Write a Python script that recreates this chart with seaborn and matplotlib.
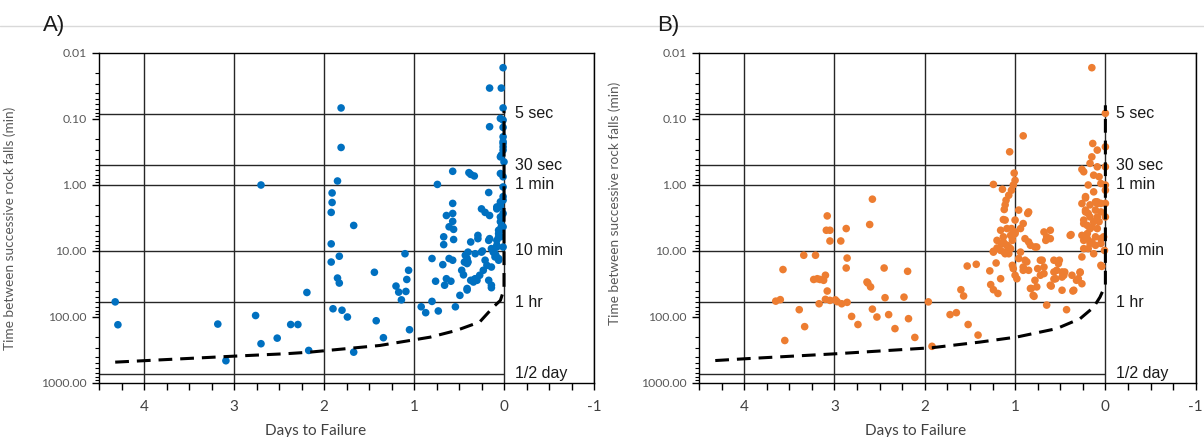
import matplotlib
matplotlib.use("Agg")
import matplotlib.pyplot as plt
import numpy as np
import pandas as pd
import seaborn as sns
from matplotlib.lines import Line2D
from matplotlib.ticker import FixedLocator, LogLocator, NullFormatter

# ---------------------------------------------------------------- data
# Panel A: rock-fall intervals (days to failure, minutes between falls)
a_days = [
    4.32, 4.29, 3.18, 3.09, 2.76, 2.70, 2.52, 2.37, 2.29, 2.70, 2.19, 2.17,
    1.81, 1.81, 1.85, 1.91, 1.91, 1.92, 1.67, 1.92, 1.83, 1.92, 1.85, 1.83,
    1.90, 1.80, 1.74, 1.67, 1.42, 1.34, 1.44, 1.10, 1.06, 1.08, 1.20, 1.17,
    1.09, 1.14, 1.05, 0.57, 0.64, 0.57, 0.57, 0.61, 0.56, 0.67, 0.56, 0.67,
    0.80, 0.68, 0.61, 0.57, 0.64, 0.66, 0.59, 0.76, 0.92, 0.87, 0.80, 0.73,
    0.54, 0.49, 0.41, 0.45, 0.47, 0.44, 0.41, 0.40, 0.43, 0.40, 0.37, 0.29,
    0.29, 0.25, 0.17, 0.16, 0.21, 0.19, 0.23, 0.27, 0.30, 0.34, 0.37, 0.17,
    0.14, 0.41, 0.32, 0.14, 0.10, 0.06, 0.08, 0.04, 0.06, 0.25, 0.21, 0.16,
    0.08, 0.04, 0.03, 0.03, 0.32, 0.01, 0.16, 0.03, 0.01, 0.04, 0.01, 0.16,
    0.01, 0.01, 0.03, 0.00, 0.57, 0.39, 0.37, 0.33, 0.04, 0.74, 0.01, 0.17,
    0.04, 0.01, 0.01, 0.01, 0.01, 0.04, 0.01, 0.08, 0.04, 0.01, 0.04, 0.06,
    0.08, 0.06, 0.12, 0.09, 0.06, 0.14, 0.14, 0.24, 0.41, 0.33, 0.01, 0.01,
    0.04, 0.01, 0.04, 0.01, 0.08, 0.10,
]
a_minutes = [
    59, 131, 128, 460, 95, 254, 209, 130, 130, 1.0, 42.5, 321,
    0.068, 0.27, 0.87, 1.32, 1.84, 2.6, 4.1, 7.8, 12, 14.7, 25.7, 30.6,
    75, 79, 100, 341, 114, 206, 21, 11, 19.6, 27, 34, 42,
    41, 55, 156, 1.9, 2.9, 2.7, 3.55, 4.3, 4.7, 6.1, 6.7, 8.0,
    13.0, 16.1, 13, 13.8, 26.3, 33, 28.7, 28.7, 70, 86, 58, 81,
    70, 47, 39, 23, 19.6, 14.7, 13, 14.7, 11.6, 10.4, 7.3, 5.8,
    6.5, 10.4, 6.9, 6.5, 13.8, 16.5, 19.6, 23.3, 27.8, 29.5, 27.8, 27.8,
    33, 15.5, 11, 9.2, 11, 13, 8.2, 4.9, 6.1, 2.3, 2.6, 2.9,
    2.3, 2.15, 4.3, 3.05, 26.3, 0.0167, 0.034, 0.034, 0.068, 0.098, 0.104, 0.131,
    0.22, 0.264, 0.353, 0.446, 0.62, 0.65, 0.69, 0.73, 0.67, 0.98, 1.07, 1.3,
    1.8, 0.134, 0.186, 0.235, 0.296, 0.375, 0.75, 2.15, 2.0, 2.7, 3.6, 5.45,
    6.9, 4.85, 10.4, 11.6, 13.8, 17.5, 36, 10.0, 37, 27, 1.5, 1.7,
    3.05, 4.3, 6.1, 8.7, 8.7, 12.3,
]

# Panel B: rock-fall intervals (days to failure, minutes between falls)
b_days = [
    2.58, 3.08, 3.09, 3.05, 2.87, 2.61, 3.05, 2.93, 3.34, 3.21, 2.86, 3.57,
    2.87, 2.45, 3.23, 3.19, 3.16, 3.12, 3.10, 3.08, 2.64, 2.63, 2.60, 3.65,
    3.60, 3.10, 3.05, 2.99, 2.97, 2.92, 2.86, 3.17, 2.44, 3.39, 2.58, 2.81,
    2.40, 2.53, 2.74, 3.33, 2.33, 3.55, 2.19, 2.23, 1.96, 2.18, 2.11, 1.92,
    1.72, 1.65, 1.52, 1.41, 1.60, 1.57, 1.53, 1.43, 1.28, 1.21, 1.16, 1.27,
    1.24, 1.19, 1.24, 1.20, 1.06, 1.24, 1.14, 1.04, 1.02, 1.00, 1.01, 1.10,
    1.11, 1.12, 1.07, 1.13, 1.04, 1.00, 1.13, 1.09, 1.12, 1.07, 1.03, 1.00,
    1.03, 0.98, 0.15, 0.00, 0.91, 0.14, 0.09, 0.00, 0.15, 0.17, 0.26, 0.24,
    0.09, 0.00, 0.13, 0.07, 0.05, 0.19, 0.13, 0.00, 0.22, 0.09, 1.11, 1.09,
    1.05, 1.00, 1.03, 1.13, 1.07, 1.11, 0.96, 0.85, 0.91, 0.94, 0.89, 0.83,
    0.78, 0.94, 0.96, 0.89, 0.91, 0.85, 1.00, 1.02, 0.72, 0.68, 0.72, 0.78,
    0.83, 0.80, 0.68, 0.65, 0.61, 0.61, 0.66, 0.57, 0.52, 0.48, 0.57, 0.55,
    0.61, 0.48, 0.46, 0.37, 0.35, 0.28, 0.30, 0.39, 0.65, 0.43, 0.26, 0.22,
    0.19, 0.24, 0.20, 0.17, 0.13, 0.09, 0.05, 0.26, 0.20, 0.15, 0.19, 0.11,
    0.05, 0.24, 0.13, 0.05, 0.17, 0.11, 0.05, 0.00, 0.00, 0.00, 0.02, 0.01,
    0.04, 0.22, 0.09, 0.11, 0.22, 0.17, 0.07, 0.24, 0.15, 0.09, 0.20, 0.11,
    0.24, 0.17, 0.05, 0.26, 0.38, 0.76, 0.85, 0.86, 0.91, 0.87, 0.75, 0.70,
    0.68, 0.76, 0.82, 0.79, 0.60, 0.57, 0.54, 0.51, 0.48, 0.45, 0.36, 0.28,
    0.32, 0.26, 1.16, 1.13, 1.20, 1.15, 1.09, 1.05, 1.16, 1.24,
]
b_minutes = [
    1.64, 2.94, 4.85, 4.85, 4.57, 3.97, 7.05, 7.05, 11.6, 11.6, 12.8, 19.1,
    18.1, 18.1, 27, 26.3, 27, 27.8, 23.3, 40.4, 29.5, 30.6, 35, 57.5,
    54.6, 54, 56, 55, 58.6, 63, 60, 63, 51, 77.5, 76, 98,
    92, 100, 130, 140, 150, 227, 20.3, 50, 59, 106, 204, 278,
    92, 86, 130, 188, 38.6, 48, 16.9, 15.9, 20, 15.2, 26.3, 32.3,
    38.6, 44, 10.1, 9.0, 0.314, 0.98, 1.16, 1.2, 1.0, 0.85, 0.66, 1.7,
    2.0, 2.35, 1.43, 3.34, 4.57, 3.4, 7.3, 8.2, 10.4, 11, 6.1, 5.45,
    16.5, 26.3, 0.0167, 0.082, 0.18, 0.235, 0.296, 0.264, 0.375, 0.47, 0.58, 0.63,
    0.53, 0.53, 0.71, 0.75, 0.95, 1.0, 1.27, 1.2, 1.57, 1.8, 3.4, 4.57,
    5.8, 5.15, 6.9, 7.7, 8.7, 11, 2.4, 2.56, 3.84, 4.57, 6.5, 8.2,
    8.7, 10.4, 13, 13.8, 17.5, 19.6, 23.3, 18.5, 13.8, 17.5, 23.3, 27.8,
    37, 47, 5.15, 6.1, 4.85, 6.5, 6.9, 13.8, 15.5, 20.8, 20.8, 26.3,
    33, 39.3, 23.3, 23.3, 39.3, 20.8, 26.3, 5.8, 66, 77.5, 1.91, 2.4,
    2.7, 3.4, 4.1, 4.6, 3.6, 3.05, 2.56, 5.8, 6.5, 7.3, 9.2, 8.2,
    6.5, 9.2, 11, 16.5, 2.0, 1.8, 1.9, 1.0, 1.9, 3.05, 6.1, 9.8,
    17.1, 1.5, 1.91, 2.4, 2.56, 3.05, 3.6, 3.84, 4.32, 4.57, 5.45, 6.1,
    6.9, 7.7, 7.7, 12.3, 5.65, 8.7, 7.3, 2.7, 19.6, 14.6, 18.5, 13.8,
    22, 35, 37, 48.6, 34, 26.6, 19.6, 13.8, 24.8, 20.8, 40.4, 21.2,
    27.8, 31.3, 4.85, 6.1, 6.9, 7.7, 8.2, 9.2, 9.8, 10.4,
]

# Dashed trend curves (days to failure, minutes)
a_curve_days = [4.32, 3.0, 2.42, 2.16, 1.38, 0.82, 0.53, 0.27, 0.12, 0.04, 0.0, 0.0]
a_curve_minutes = [483, 392, 360, 341, 270, 202, 160, 119, 71, 56, 38, 0.075]
b_curve_days = [4.32, 4.0, 2.99, 2.27, 1.92, 1.39, 0.98, 0.54, 0.28, 0.13, 0.06, 0.0, 0.0]
b_curve_minutes = [457, 430, 361, 313, 292, 240, 201, 150, 106, 71, 50, 33, 0.062]

# Reference intervals
ref_minutes = [5 / 60, 0.5, 1, 10, 60, 720]
ref_labels = ["5 sec", "30 sec", "1 min", "10 min", "1 hr", "1/2 day"]

x_ticks = [4, 3, 2, 1, 0, -1]
x_tick_labels = ["4", "3", "2", "1", "0", "-1"]
y_ticks = [0.01, 0.1, 1, 10, 100, 1000]
y_tick_labels = ["0.01", "0.10", "1.00", "10.00", "100.00", "1000.00"]

blue = "#0070C0"
orange = "#ED7D31"

# ---------------------------------------------------------------- styling
sns.set_style("white")
plt.rcParams["font.family"] = ["Lato", "DejaVu Sans"]

W, H = 1204, 437
fig = plt.figure(figsize=(W / 100, H / 100), dpi=100)

# thin separator line across the top
fig.add_artist(Line2D([0, 1], [1 - 26 / H] * 2, color="#d9d9d9", lw=1.0, zorder=0))


def draw_panel(ax, days, minutes, color, c_days, c_min, ylabel_pos):
    frame = pd.DataFrame({"days": days, "minutes": minutes})
    ax.set_yscale("log")

    # reference interval lines, ending at failure time
    ax.hlines(ref_minutes, xmin=0, xmax=4.5, color="#262626", lw=1.0, zorder=1)
    for m, lab in zip(ref_minutes, ref_labels):
        ax.text(-0.12, m, lab, va="center", ha="left", fontsize=11.5,
                family="Liberation Sans", color="#1a1a1a", zorder=4)

    sns.scatterplot(data=frame, x="days", y="minutes", ax=ax, color=color,
                    s=30, edgecolor="none", linewidth=0, zorder=3, legend=False)

    curve = pd.DataFrame({"days": c_days, "minutes": c_min})
    sns.lineplot(data=curve, x="days", y="minutes", ax=ax, sort=False,
                 estimator=None, color="black", lw=2.2, zorder=5)
    ax.lines[-1].set_dashes([4.5, 2.6])

    ax.set_xlim(4.5, -1)
    ax.set_ylim(1000, 0.01)

    ax.xaxis.set_major_locator(FixedLocator(x_ticks))
    ax.set_xticklabels(x_tick_labels)
    ax.xaxis.set_minor_locator(FixedLocator(list(np.arange(4.5, -1.01, -0.25))))
    ax.xaxis.grid(True, which="major", color="#262626", lw=1.0)
    ax.yaxis.grid(False)
    ax.set_axisbelow(True)

    ax.yaxis.set_major_locator(FixedLocator(y_ticks))
    ax.set_yticklabels(y_tick_labels)
    ax.yaxis.set_minor_locator(LogLocator(base=10, subs=np.arange(2, 10)))
    ax.yaxis.set_minor_formatter(NullFormatter())

    ax.tick_params(axis="x", which="both", direction="out", length=5, width=1,
                   color="black", labelsize=11, labelcolor="#404040", pad=7,
                   bottom=True)
    ax.tick_params(axis="y", which="major", direction="out", length=5, width=1,
                   color="black", labelsize=8.8, labelcolor="#595959", pad=4,
                   left=True)
    ax.tick_params(axis="y", which="minor", direction="out", length=3, width=0.8,
                   color="black", left=True)

    for sp in ax.spines.values():
        sp.set_visible(True)
        sp.set_color("black")
        sp.set_linewidth(1.0)

    ax.set_xlabel("Days to Failure", fontsize=11, color="#404040")
    ax.xaxis.set_label_coords(0.437, -0.125)
    ax.set_ylabel("Time between successive rock falls (min)", fontsize=9.8,
                  color="#595959")
    ax.yaxis.set_label_coords(*ylabel_pos)


ax_a = fig.add_axes([99 / W, 1 - 383 / H, 495 / W, 330 / H])
ax_b = fig.add_axes([699 / W, 1 - 383 / H, 496.7 / W, 330 / H])

draw_panel(ax_a, a_days, a_minutes, blue, a_curve_days, a_curve_minutes, (-0.168, 0.47))
draw_panel(ax_b, b_days, b_minutes, orange, b_curve_days, b_curve_minutes, (-0.157, 0.545))

fig.text(43 / W, 1 - 31 / H, "A)", fontsize=16, family="Liberation Sans",
         va="baseline", ha="left", color="#1a1a1a")
fig.text(657 / W, 1 - 31 / H, "B)", fontsize=16, family="Liberation Sans",
         va="baseline", ha="left", color="#1a1a1a")

fig.savefig("out.png", dpi=100, facecolor="white")
